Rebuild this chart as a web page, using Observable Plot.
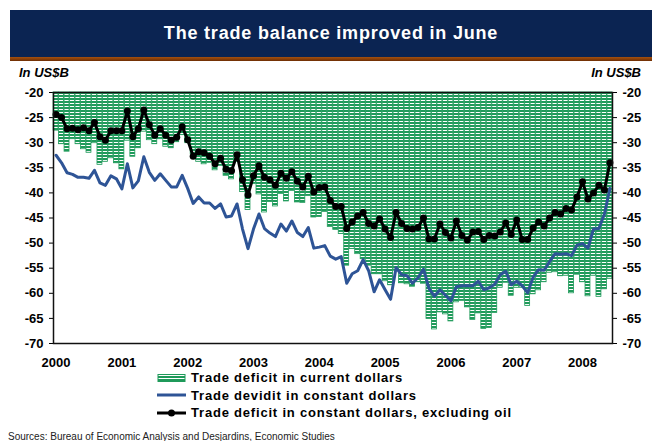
<!DOCTYPE html>
<html><head><meta charset="utf-8">
<script src="https://cdn.jsdelivr.net/npm/d3@7"></script>
<script src="https://cdn.jsdelivr.net/npm/@observablehq/plot@0.6"></script>
<style>
html,body{margin:0;padding:0;background:#fff}
body{width:652px;height:441px;overflow:hidden;position:relative;font-family:"Liberation Sans",Arial,sans-serif;color:#000}
#banner{position:absolute;left:10px;top:10px;width:642px;height:47px;background:#0b2452;color:#fff;font-weight:bold;font-size:18px;letter-spacing:0.8px;display:flex;align-items:center;justify-content:center}
#rule{position:absolute;left:10px;top:57px;width:642px;height:4px;background:linear-gradient(#a5500f,#6e2e04)}
.unit{position:absolute;top:65px;font-weight:bold;font-style:italic;font-size:13px}
#chart{position:absolute;left:0;top:62px}
#legend{position:absolute;left:157px;top:369px;font-weight:bold;font-size:13px;letter-spacing:0.8px}
.row{height:17.5px;display:flex;align-items:center;white-space:nowrap}
.row svg{margin-right:4px;flex:none}
#source{position:absolute;left:8px;top:431px;font-size:10px;line-height:12px;color:#222}
</style></head>
<body>
<div id="banner">The trade balance improved in June</div>
<div id="rule"></div>
<div class="unit" style="left:19px">In US$B</div>
<div class="unit" style="right:11px">In US$B</div>
<div id="chart"></div>
<div id="legend">
  <div class="row"><svg width="30" height="10"><defs><pattern id="hatchL" patternUnits="userSpaceOnUse" width="6" height="3"><rect width="6" height="3" fill="#1f9a5a"/><rect y="2" width="6" height="1" fill="#fff"/></pattern></defs><rect x="1" y="1.5" width="27" height="7" fill="url(#hatchL)" stroke="#1f9a5a"/></svg>Trade deficit in current dollars</div>
  <div class="row"><svg width="30" height="10"><line x1="0" y1="5" x2="29" y2="5" stroke="#2e5496" stroke-width="3"/></svg>Trade devidit in constant dollars</div>
  <div class="row"><svg width="30" height="10"><line x1="0" y1="5" x2="29" y2="5" stroke="#000" stroke-width="3"/><circle cx="14.5" cy="5" r="3.5" fill="#000"/></svg>Trade deficit in constant dollars, excluding oil</div>
</div>
<div id="source">Sources: Bureau of Economic Analysis and Desjardins, Economic Studies</div>
<script>
// Monthly data, Jan 2000 – Jun 2008 (US$ billions)
const yearLabels = ["2000","2001","2002","2003","2004","2005","2006","2007","2008"];
const yTicks = [-70,-65,-60,-55,-50,-45,-40,-35,-30,-25,-20];
const currentDollars = [
-27.6,-30.3,-31.8,-29.3,-30.3,-31.3,-32.0,-30.1,-34.4,-33.8,-33.1,-34.1,
-35.3,-29.6,-32.8,-31.1,-27.8,-29.5,-30.3,-29.3,-30.8,-31.1,-29.9,-28.5,
-30.1,-32.3,-33.8,-34.3,-34.0,-35.5,-34.6,-36.6,-37.3,-33.8,-39.8,-43.4,
-38.2,-40.3,-43.9,-41.8,-42.7,-40.2,-41.7,-39.6,-41.9,-42.0,-40.6,-44.9,
-44.8,-43.8,-46.8,-47.4,-48.2,-54.5,-51.2,-52.2,-53.2,-54.5,-56.2,-56.2,
-57.6,-58.4,-55.5,-58.0,-58.2,-58.7,-57.8,-58.1,-65.1,-67.2,-63.8,-64.2,
-65.6,-61.8,-61.5,-62.8,-65.3,-64.0,-67.1,-66.9,-63.9,-58.9,-57.9,-60.5,
-58.9,-58.9,-62.5,-60.2,-59.4,-57.8,-55.9,-55.8,-56.6,-56.5,-60.0,-56.3,
-57.8,-60.6,-56.5,-60.7,-59.2,-57.1];
const constantDollars = [
-32.5,-34.0,-36.0,-36.3,-36.9,-36.9,-37.1,-35.5,-38.0,-38.5,-36.6,-37.2,
-39.2,-34.2,-39.0,-37.6,-32.8,-35.9,-37.5,-36.2,-37.5,-38.8,-38.8,-36.5,
-39.1,-42.1,-40.8,-42.0,-42.0,-43.1,-42.2,-44.8,-44.6,-42.2,-47.2,-51.1,
-47.2,-44.2,-47.1,-48.0,-48.7,-46.2,-47.6,-45.6,-47.9,-48.7,-46.9,-51.0,
-50.8,-50.5,-52.6,-53.2,-52.7,-58.0,-56.1,-55.5,-53.3,-55.5,-59.7,-57.3,
-59.3,-61.2,-54.9,-56.3,-56.5,-58.0,-56.9,-55.2,-59.0,-60.6,-59.3,-60.4,
-61.5,-58.7,-58.5,-58.5,-58.5,-57.6,-59.3,-58.9,-58.2,-56.3,-55.6,-58.3,
-57.6,-58.5,-59.9,-56.8,-55.3,-55.4,-53.7,-52.1,-52.2,-52.1,-52.5,-50.4,
-50.1,-51.0,-47.2,-47.1,-44.2,-39.1];
const excludingOil = [
-24.4,-25.0,-27.2,-27.1,-27.4,-27.0,-27.6,-26.0,-28.8,-29.5,-27.6,-27.6,
-27.6,-23.7,-28.8,-27.2,-23.5,-26.4,-28.5,-27.2,-28.5,-29.5,-28.9,-26.8,
-29.4,-32.7,-31.8,-32.0,-32.7,-34.2,-33.1,-35.3,-35.6,-32.4,-37.4,-40.4,
-36.6,-34.6,-36.9,-37.4,-38.5,-36.1,-37.1,-35.8,-37.7,-38.8,-36.7,-39.8,
-38.9,-38.8,-41.5,-42.7,-42.7,-47.1,-45.8,-44.6,-43.9,-46.1,-46.6,-45.2,
-47.2,-48.9,-43.9,-46.1,-47.1,-47.2,-46.9,-45.0,-49.2,-49.2,-46.2,-47.9,
-49.0,-45.6,-48.5,-49.4,-47.8,-47.7,-49.3,-48.5,-48.6,-47.8,-46.0,-48.3,
-45.4,-49.3,-49.3,-47.0,-45.8,-46.6,-45.0,-43.9,-44.2,-43.1,-43.4,-40.8,
-37.8,-41.2,-40.0,-38.5,-39.4,-34.0];

const data = currentDollars.map((v, i) => ({i, cur: v, con: constantDollars[i], ex: excludingOil[i]}));
const yTop = yTicks[yTicks.length - 1];
const janTicks = yearLabels.map((_, k) => k * 12);

const chart = Plot.plot({
  width: 652, height: 311,
  marginTop: 30, marginBottom: 30, marginLeft: 53, marginRight: 40,
  style: {fontFamily: "Liberation Sans, Arial, sans-serif", fontSize: "13px", fontWeight: "bold", color: "#000", background: "transparent", overflow: "visible"},
  x: {type: "band", domain: data.map(d => d.i), paddingInner: 0.1, paddingOuter: 0.02,
      ticks: janTicks, tickFormat: i => yearLabels[i / 12], tickSize: 0, tickPadding: 14, label: null},
  y: {domain: [-70, -20], axis: "both", ticks: yTicks, tickFormat: d => "-" + Math.abs(d), tickSize: 4, tickPadding: 6, label: null},
  marks: [
    Plot.barY(data, {x: "i", y1: () => yTop, y2: "cur", fill: "#123456", stroke: "#1f9a5a", strokeWidth: 0.8}),
    Plot.line(data, {x: "i", y: "con", stroke: "#2e5496", strokeWidth: 3}),
    Plot.line(data, {x: "i", y: "ex", stroke: "#000", strokeWidth: 3}),
    Plot.dot(data, {x: "i", y: "ex", r: 3.5, fill: "#000"}),
    Plot.frame({stroke: "#111", strokeWidth: 1.5})
  ]
});
const ns = "http://www.w3.org/2000/svg";
const defs = document.createElementNS(ns, "defs");
defs.innerHTML = '<pattern id="hatch" patternUnits="userSpaceOnUse" width="6" height="3"><rect width="6" height="3" fill="#1f9a5a"/><rect y="2" width="6" height="1" fill="#fff"/></pattern>';
chart.insertBefore(defs, chart.firstChild);
chart.querySelectorAll('[fill="#123456"]').forEach(e => e.setAttribute("fill", "url(#hatch)"));
document.getElementById("chart").appendChild(chart);
</script>
</body></html>
